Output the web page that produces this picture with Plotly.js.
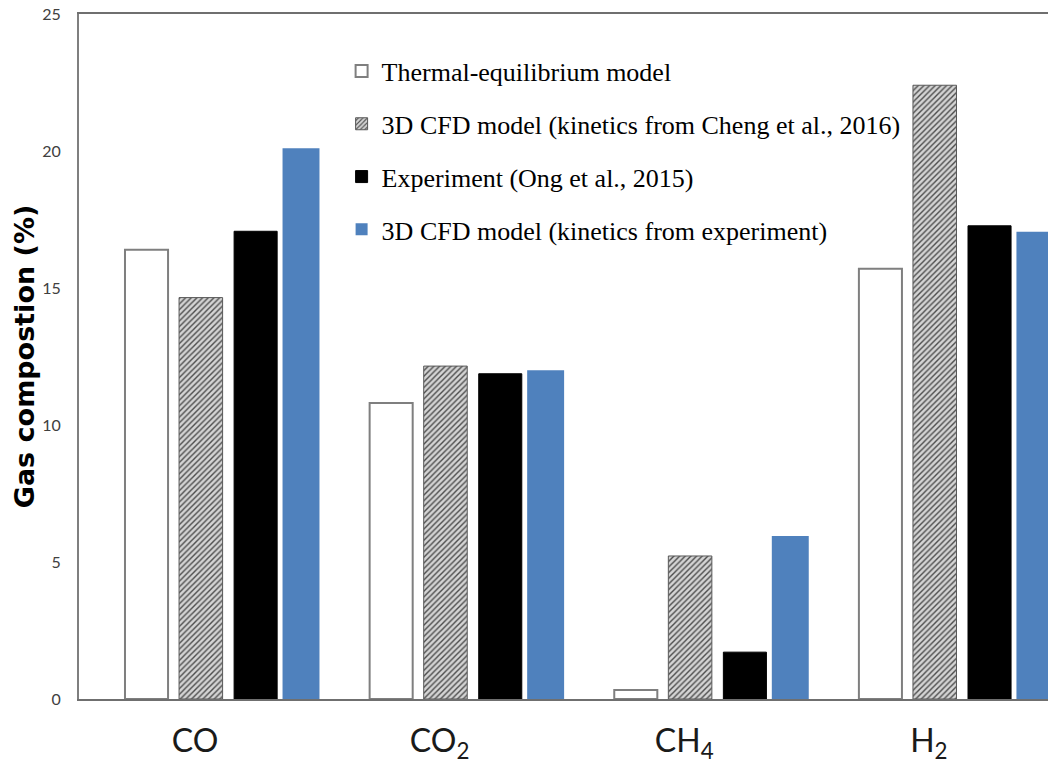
<!DOCTYPE html>
<html>
<head>
<meta charset="utf-8">
<script src="https://cdn.plot.ly/plotly-3.0.1.min.js"></script>
<style>html,body{margin:0;padding:0;background:#fff;} #chart{width:1048px;height:774px;}</style>
</head>
<body>
<div id="chart"></div>
<script>
// Data
const categories = ["CO", "CO<sub>2</sub>", "CH<sub>4</sub>", "H<sub>2</sub>"];
const seriesNames = [
  "Thermal-equilibrium model",
  "3D CFD model (kinetics from Cheng et al., 2016)",
  "Experiment (Ong et al., 2015)",
  "3D CFD model (kinetics from experiment)"
];
const thermalEquilibrium = [16.4, 10.8, 0.33, 15.7];
const cfdCheng = [14.65, 12.15, 5.22, 22.4];
const experimentOng = [17.07, 11.87, 1.71, 17.27];
const cfdExperiment = [20.1, 12.0, 5.95, 17.05];
const yTickVals = [0, 5, 10, 15, 20, 25];

const traces = [
  {
    type: "bar", name: seriesNames[0], x: categories, y: thermalEquilibrium,
    offset: -0.421, width: 0.176, legendgroup: "a",
    marker: {color: "#ffffff", line: {color: "#7f7f7f", width: 2}}
  },
  {
    type: "bar", name: seriesNames[1], x: categories, y: cfdCheng,
    offset: -0.200, width: 0.178, legendgroup: "b",
    marker: {color: "#d4d4d4", line: {color: "#595959", width: 1},
      pattern: {shape: "/", fgcolor: "#4d4d4d", bgcolor: "#d4d4d4", size: 4, solidity: 0.35}}
  },
  {
    type: "bar", name: seriesNames[2], x: categories, y: experimentOng,
    offset: 0.025, width: 0.176, legendgroup: "c",
    marker: {color: "#000000", line: {color: "#000000", width: 1}}
  },
  {
    type: "bar", name: seriesNames[3], x: categories, y: cfdExperiment,
    offset: 0.223, width: 0.151, legendgroup: "d",
    marker: {color: "#4f81bd", line: {width: 0}}
  }
];

const layout = {
  width: 1048, height: 774,
  margin: {l: 79, r: 0, t: 14, b: 75},
  paper_bgcolor: "#ffffff", plot_bgcolor: "#ffffff",
  barmode: "group",
  showlegend: true,
  legend: {
    x: 0.271, xanchor: "left", y: 0.951, yanchor: "top",
    font: {family: "Liberation Serif, Times New Roman, serif", size: 26, color: "#000000"},
    bgcolor: "rgba(0,0,0,0)", borderwidth: 0,
    traceorder: "grouped", tracegroupgap: 16
  },
  xaxis: {
    type: "category",
    range: [-0.609, 3.352],
    showline: true, linecolor: "#6f6f6f", linewidth: 2, mirror: true,
    showgrid: false, zeroline: false, ticks: "",
    ticklabelshift: -33, ticklabelstandoff: 13,
    tickfont: {family: "Lato, Noto Sans, sans-serif", size: 32, color: "#1a1a1a"}
  },
  yaxis: {
    range: [0, 25],
    tickvals: yTickVals,
    showline: true, linecolor: "#7f7f7f", linewidth: 2,
    showgrid: false, zeroline: false, ticks: "",
    ticklabelstandoff: 13,
    tickfont: {family: "Lato, Noto Sans, sans-serif", size: 16, color: "#404040"},
    title: {text: "Gas compostion (%)", standoff: 0,
      font: {family: "DejaVu Sans, sans-serif", size: 27, color: "#000000", weight: "bold"}}
  }
};

Plotly.newPlot("chart", traces, layout, {displayModeBar: false, staticPlot: true});
</script>
</body>
</html>
